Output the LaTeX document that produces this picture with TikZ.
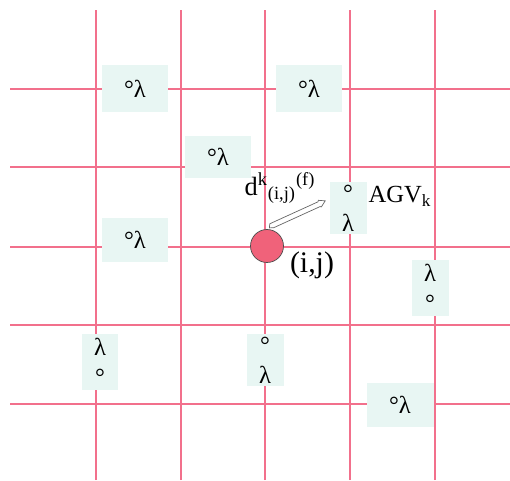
\documentclass[tikz,border=0pt]{standalone}
\usepackage{fontspec}
\setmainfont{Liberation Serif}
\usetikzlibrary{calc}

\definecolor{gridpink}{RGB}{242,112,140}
\definecolor{cellfill}{RGB}{232,246,243}
\definecolor{agvred}{RGB}{240,98,122}

\begin{document}
\begin{tikzpicture}[x=0.02cm,y=0.02cm,
  gridline/.style={gridpink,line width=1.4pt},
  cell/.style={fill=cellfill,inner sep=0pt,align=center,
    font=\fontsize{14}{17}\selectfont},
  flatcell/.style={cell,minimum width=1.34cm,minimum height=0.94cm},
  tallcell/.style={cell,minimum width=0.74cm,minimum height=1.12cm},
  agv/.style={circle,draw=black!70,fill=agvred,minimum size=0.66cm,inner sep=0pt},
  caption/.style={font=\fontsize{15}{17}\selectfont,inner sep=1pt}
]
\useasboundingbox (0,0) rectangle (510,480);

% the road grid
\foreach \x in {96,181,265,350,435}
  \draw[gridline] (\x,0) -- (\x,470);
\foreach \y in {76,155,233,313,391}
  \draw[gridline] (10,\y) -- (510,\y);

% cells with signal marks
\node[flatcell] (cellA) at (135,391) {°λ};
\node[flatcell] (cellB) at (309,391) {°λ};
\node[flatcell,minimum height=0.86cm] (cellC) at (218,323) {°λ};
\node[tallcell,minimum height=1.06cm] (cellD) at (348,272) {°\\λ};
\node[flatcell,minimum height=0.9cm] (cellE) at (135,240) {°λ};
\node[tallcell] (cellF) at (430,192) {λ\\°};
\node[tallcell] (cellG) at (100,118) {λ\\°};
\node[tallcell,minimum height=1.06cm] (cellH) at (265,120) {°\\λ};
\node[flatcell,minimum height=0.88cm] (cellI) at (400,75) {°λ};

% the vehicle at node (i,j) and its heading
\node[agv] (vehicle) at (267,234) {};
\begin{scope}[shift={(269,253)},rotate=24.5]
  \draw[black!60,fill=white,line width=0.4pt]
    (0,-1) -- (2,2.6) -- (55,2.6) -- (56,3.8) -- (62,0.5)
    -- (56,-3.4) -- (55,-2.6) -- (4,-2.6) -- cycle;
\end{scope}

\node[caption] (dist) at (280,292)
  {d\textsuperscript{k}\textsubscript{(i,j)}\textsuperscript{(f)}};
\node[caption,font=\fontsize{14}{16}\selectfont] (agvname) at (400,284)
  {AGV\textsubscript{k}};
\node[caption,font=\fontsize{17}{19}\selectfont] (pos) at (312,215) {(i,j)};
\end{tikzpicture}
\end{document}
